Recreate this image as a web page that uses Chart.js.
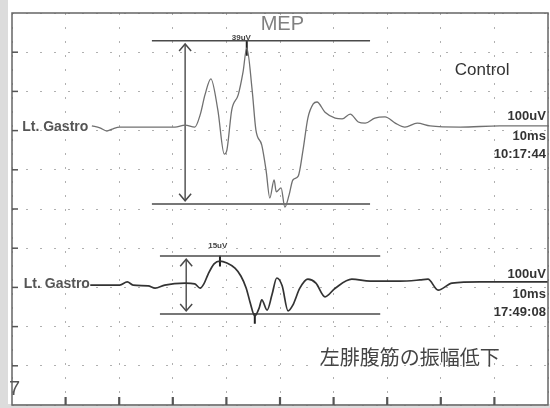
<!DOCTYPE html>
<html>
<head>
<meta charset="utf-8">
<script src="https://cdn.jsdelivr.net/npm/chart.js@4.4.0/dist/chart.umd.min.js"></script>
<style>
  html, body { margin: 0; padding: 0; background: #fff; }
</style>
</head>
<body>
<canvas id="myChart1" width="550" height="408"></canvas>
<script>
// Control trace: time (ms) and amplitude (uV), 100uV per division
const ctrlTime = [14.9, 16.4, 17.7, 18.7, 20.1, 25.7, 30.4, 32.3, 34.1, 35.1, 36.0, 37.1, 38.4, 39.6, 40.1, 41.0, 42.2, 43.1, 43.8, 44.8, 45.5, 46.6, 47.4, 48.1, 48.9, 49.3, 50.2, 50.9, 51.7, 52.4, 53.4, 54.3, 55.2, 56.2, 56.9, 58.4, 60.3, 61.6, 63.1, 64.6, 65.9, 67.7, 69.6, 71.5, 73.3, 75.6, 78.0, 83.6, 91.0, 100];
const ctrlAmp = [12, 7, -1, 4, 9, 9, 9, 14, 9, 40, 91, 132, 53, -60, -49, 53, 91, 149, 211, 104, 2, -37, -101, -172, -126, -156, -146, -195, -164, -126, -116, -49, 32, 68, 73, 47, 32, 30, 42, 22, 19, 32, 35, 19, 9, 19, 12, 9, 12, 12];

// Later trace: reduced amplitude
const lowTime = [14.6, 20.1, 21.5, 22.6, 25.4, 26.7, 28.5, 32.3, 34.1, 35.1, 35.8, 36.6, 37.7, 38.8, 40.1, 41.6, 42.7, 43.7, 44.4, 45.3, 46.1, 46.6, 47.6, 48.5, 49.4, 50.4, 51.5, 52.4, 53.7, 55.2, 56.7, 58.4, 60.3, 63.4, 66.8, 72.4, 76.1, 77.6, 79.5, 82.1, 87.3, 100];
const lowAmp = [6, 6, 14, 6, 4, -2, 6, 11, 9, -2, 9, 34, 60, 67, 62, 49, 29, -2, -37, -73, -53, -32, -58, -19, 24, 4, -60, -45, -2, 21, 11, -24, -2, 21, 16, 16, 19, 21, -7, 11, 14, 14];

// baselines, in divisions from the bottom
const ctrlBase = 7;
const lowBase = 3;

// amplitude cursor lines (start/end ms, upper/lower uV)
const ctrlMarkTime = [26.1, 66.8];
const ctrlMarkAmp = [229, -187];
const lowMarkTime = [27.6, 68.7];
const lowMarkAmp = [80, -68];
const arrowTime = [32.3, 32.5];

// peak cursors (ms, uV)
const ctrlPeak = [43.8, 211];
const lowPeak = [38.8, 67];
const lowTrough = [45.3, -73];

const peakLabels = ["39uV", "15uV"];
const sideLabels = [["100uV", "10ms", "10:17:44"], ["100uV", "10ms", "17:49:08"]];

function toPoints(times, amps, base) {
  return times.map((t, i) => ({ x: t, y: base + amps[i] / 100 }));
}
function hLine(times, amp, base) {
  return [{ x: times[0], y: base + amp / 100 }, { x: times[1], y: base + amp / 100 }];
}
function vLine(t, a1, a2, base) {
  return [{ x: t, y: base + a1 / 100 }, { x: t, y: base + a2 / 100 }];
}

const markColor = "#4a4a4a";
function lineSet(data, color, width) {
  return { data: data, borderColor: color, borderWidth: width, pointRadius: 0, tension: 0, fill: false };
}

const ctrlSet = lineSet(toPoints(ctrlTime, ctrlAmp, ctrlBase), "#707070", 1.3);
ctrlSet.cubicInterpolationMode = "monotone";
const lowSet = lineSet(toPoints(lowTime, lowAmp, lowBase), "#333", 1.7);
lowSet.cubicInterpolationMode = "monotone";

const datasets = [
  ctrlSet,
  lowSet,
  lineSet(hLine(ctrlMarkTime, ctrlMarkAmp[0], ctrlBase), markColor, 1.5),
  lineSet(hLine(ctrlMarkTime, ctrlMarkAmp[1], ctrlBase), markColor, 1.5),
  lineSet(hLine(lowMarkTime, lowMarkAmp[0], lowBase), markColor, 1.5),
  lineSet(hLine(lowMarkTime, lowMarkAmp[1], lowBase), markColor, 1.5),
  lineSet(vLine(arrowTime[0], ctrlMarkAmp[0] - 8, ctrlMarkAmp[1] + 8, ctrlBase), markColor, 1.4),
  lineSet(vLine(arrowTime[1], lowMarkAmp[0] - 8, lowMarkAmp[1] + 8, lowBase), markColor, 1.4),
  lineSet(vLine(ctrlPeak[0], ctrlPeak[1] + 20, ctrlPeak[1] - 20, ctrlBase), "#222", 2),
  lineSet(vLine(lowPeak[0], lowPeak[1] + 14, lowPeak[1] - 14, lowBase), "#222", 2),
  lineSet(vLine(lowTrough[0], lowTrough[1] + 8, lowTrough[1] - 20, lowBase), "#222", 2),
];

// frame, ticks, arrowheads and texts
const scopePlugin = {
  id: "scope",
  beforeDraw(chart) {
    const ctx = chart.ctx;
    ctx.save();
    ctx.fillStyle = "#fff";
    ctx.fillRect(0, 0, chart.width, chart.height);
    ctx.fillStyle = "#dcdcdc";
    ctx.fillRect(0, 0, 8, chart.height);
    ctx.fillRect(0, 404, chart.width, 4);
    ctx.restore();
  },
  afterDatasetsDraw(chart) {
    const ctx = chart.ctx;
    const xs = chart.scales.x, ys = chart.scales.y;
    const a = chart.chartArea;
    const px = v => xs.getPixelForValue(v);
    const py = v => ys.getPixelForValue(v);
    ctx.save();

    // frame
    ctx.strokeStyle = "#666";
    ctx.lineWidth = 1.5;
    ctx.strokeRect(a.left, a.top, a.right - a.left, a.bottom - a.top);

    // ticks
    ctx.strokeStyle = "#555";
    ctx.lineWidth = 1.5;
    for (let i = 1; i < 10; i++) {
      ctx.beginPath();
      ctx.moveTo(a.left, py(i));
      ctx.lineTo(a.left + 6, py(i));
      ctx.stroke();
    }
    ctx.lineWidth = 2.2;
    for (let i = 1; i < 10; i++) {
      ctx.beginPath();
      ctx.moveTo(px(i * 10), a.bottom);
      ctx.lineTo(px(i * 10), a.bottom - 8);
      ctx.stroke();
    }

    // arrowheads
    ctx.strokeStyle = markColor;
    ctx.lineWidth = 1.5;
    function head(x, y, dir) {
      ctx.beginPath();
      ctx.moveTo(x - 6, y + dir * 7);
      ctx.lineTo(x, y);
      ctx.lineTo(x + 6, y + dir * 7);
      ctx.stroke();
    }
    head(px(arrowTime[0]), py(ctrlBase + (ctrlMarkAmp[0] - 8) / 100), 1);
    head(px(arrowTime[0]), py(ctrlBase + (ctrlMarkAmp[1] + 8) / 100), -1);
    head(px(arrowTime[1]), py(lowBase + (lowMarkAmp[0] - 8) / 100), 1);
    head(px(arrowTime[1]), py(lowBase + (lowMarkAmp[1] + 8) / 100), -1);

    // texts
    ctx.textBaseline = "middle";
    ctx.fillStyle = "#808080";
    ctx.font = "20px 'Liberation Sans', Arial, sans-serif";
    ctx.fillText("MEP", px(46.4), py(9.7));

    ctx.fillStyle = "#444";
    ctx.font = "bold 8px 'Liberation Sans', Arial, sans-serif";
    ctx.fillText(peakLabels[0], px(41.0), py(9.38));
    ctx.fillText(peakLabels[1], px(36.6), py(4.06));

    ctx.fillStyle = "#333";
    ctx.font = "17px 'Liberation Sans', Arial, sans-serif";
    ctx.fillText("Control", px(82.6), py(8.55));

    ctx.fillStyle = "#555";
    ctx.font = "bold 14px 'Liberation Sans', Arial, sans-serif";
    ctx.fillText("Lt. Gastro", px(1.9), py(ctrlBase + 0.1));
    ctx.fillText("Lt. Gastro", px(2.2), py(lowBase + 0.08));

    ctx.fillStyle = "#333";
    ctx.font = "bold 13px 'Liberation Sans', Arial, sans-serif";
    ctx.textAlign = "right";
    const sideY = [[7.35, 6.86, 6.38], [3.32, 2.83, 2.37]];
    sideLabels.forEach((labels, k) => {
      labels.forEach((s, j) => ctx.fillText(s, px(99.6), py(sideY[k][j])));
    });

    ctx.textAlign = "left";
    ctx.fillStyle = "#444";
    ctx.font = "20px 'Noto Sans CJK JP', sans-serif";
    ctx.fillText("左腓腹筋の振幅低下", px(57.4), py(1.22));

    ctx.fillStyle = "#555";
    ctx.font = "20px 'Liberation Sans', Arial, sans-serif";
    ctx.fillText("7", 9, 389);
    ctx.restore();
  }
};

const gridOpts = {
  color: "#b0b0b0",
  lineWidth: 1,
  drawTicks: false,
  tickLength: 0
};

const ctx1 = document.getElementById("myChart1").getContext("2d");
const myChart1 = new Chart(ctx1, {
  type: "line",
  data: { datasets: datasets },
  options: {
    responsive: false,
    animation: false,
    devicePixelRatio: 1,
    layout: { padding: { left: 12, top: 13, right: 2, bottom: 3 } },
    plugins: { legend: { display: false }, tooltip: { enabled: false } },
    scales: {
      x: {
        type: "linear", min: 0, max: 100,
        ticks: { display: false, stepSize: 10 },
        grid: gridOpts,
        border: { display: false, dash: [2, 12] }
      },
      y: {
        type: "linear", min: 0, max: 10,
        ticks: { display: false, stepSize: 1 },
        grid: gridOpts,
        border: { display: false, dash: [2, 12] }
      }
    }
  },
  plugins: [scopePlugin]
});
</script>
</body>
</html>
